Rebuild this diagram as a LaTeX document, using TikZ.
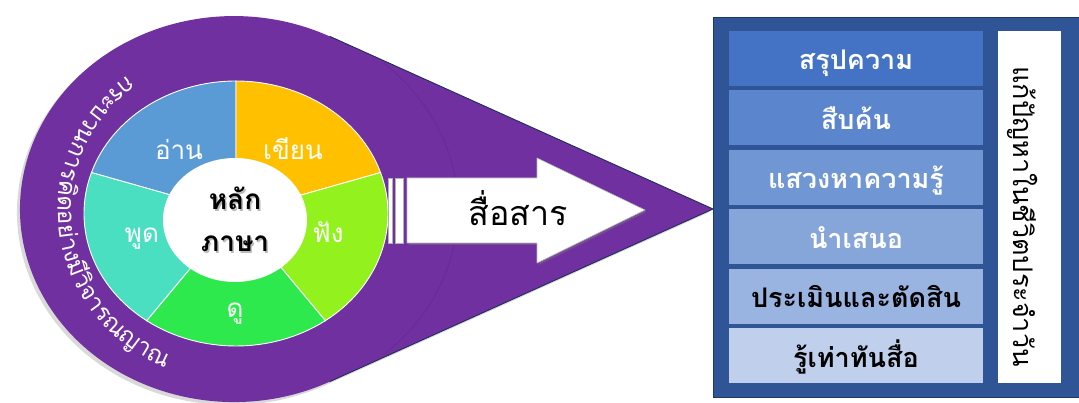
\documentclass[tikz,border=0pt]{standalone}
\usepackage{fontspec}
\newfontfamily\thai[Script=Thai]{Loma}
\usetikzlibrary{decorations.text,shadows}
\definecolor{purp}{HTML}{7030A0}
\definecolor{edgenavy}{HTML}{1F2D5A}
\definecolor{cblue}{HTML}{5B9BD5}
\definecolor{corange}{HTML}{FFC000}
\definecolor{clime}{HTML}{93F21E}
\definecolor{cgreen}{HTML}{2EE94D}
\definecolor{cturq}{HTML}{4ADFC1}
\definecolor{boxblue}{HTML}{2F5597}
\definecolor{boxedge}{HTML}{1F3864}
\definecolor{rowa}{HTML}{4472C4}
\definecolor{rowb}{HTML}{5B86CD}
\definecolor{rowc}{HTML}{7096D3}
\definecolor{rowd}{HTML}{86A6D9}
\definecolor{rowe}{HTML}{99B4E0}
\definecolor{rowf}{HTML}{C0CFEB}
\tikzset{
  slicelbl/.style={text=white, font=\thai\fontsize{26}{30}\selectfont, anchor=base, inner sep=0pt},
  centerlbl/.style={text=black, font=\thai\bfseries\fontsize{28}{32}\selectfont, anchor=base, inner sep=0pt},
  rowbox/.style={minimum width=254pt, minimum height=55pt, inner sep=0pt, draw=none},
  rowtxt/.style={font=\thai\bfseries\fontsize{27}{31}\selectfont, anchor=base, inner sep=0pt},
  arrowtxt/.style={font=\thai\fontsize{34}{38}\selectfont, anchor=base, inner sep=0pt},
}
\begin{document}
\begin{tikzpicture}[x=1pt,y=1pt]
\useasboundingbox (0,0) rectangle (1079,403);

% ---------- purple teardrop ----------
\coordinate (pc) at (234,194);
\coordinate (tip) at (713,194);
\coordinate (tt) at (329.6,366.7);
\coordinate (tb) at (329.6,21.3);
\path[fill=purp, drop shadow={shadow xshift=-3pt, shadow yshift=-3pt, opacity=0.3}]
  (tt) -- (tip) -- (tb) arc[start angle=-63.46, end angle=-296.54, x radius=214pt, y radius=193pt] -- cycle;
\draw[edgenavy, line width=0.9pt] (tt) -- (tip) -- (tb);
\draw[black, opacity=0.07, line width=1pt] (pc) ++(-48:224pt and 196pt)
  arc[start angle=-48, end angle=48, x radius=224pt, y radius=196pt];

% ---------- ring text ----------
\path[decorate, decoration={text along path, text align=center, text color=white,
   text={|\thai\fontsize{24}{28}\selectfont|กระบวนการ{คิ}ดอ{ย่}าง{มี}{วิ}จารณญาณ}}]
  (235,192) ++(115:177pt and 170pt) arc[start angle=115, end angle=259, x radius=177pt, y radius=170pt];

% ---------- pie ----------
\coordinate (c) at (236,189.5);
\foreach \a/\b/\col in {90/162/cblue, 18/90/corange, -54/18/clime, -126/-54/cgreen, 162/234/cturq}
  \filldraw[fill=\col, draw=white, line width=0.9pt] (c) -- ++(\a:152pt and 132.5pt)
     arc[start angle=\a, end angle=\b, x radius=152pt, y radius=132.5pt] -- cycle;
\fill[white] (235,183) ellipse[x radius=72pt, y radius=62pt];

\node[slicelbl] (anan) at (179,243) {อ่าน};
\node[slicelbl] (khian) at (293,243) {เขียน};
\node[slicelbl] (phut) at (142,160) {พูด};
\node[slicelbl] (fang) at (328,160) {ฟัง};
\node[slicelbl] (du) at (235,85) {ดู};

\node[centerlbl, text=black!45, opacity=0.6] (laks) at (236.5,191.5) {หลัก};
\node[centerlbl, text=black!45, opacity=0.6] (phasas) at (236.5,149.5) {ภาษา};
\node[centerlbl] (lak) at (235,193) {หลัก};
\node[centerlbl] (phasa) at (235,151) {ภาษา};

% ---------- block arrow ----------
\path[fill=white, draw=gray!55, line width=0.6pt, drop shadow={shadow xshift=1.5pt, shadow yshift=-2pt, opacity=0.4}]
  (407,225) -- (537,225) -- (537,245) -- (645,193) -- (537,140) -- (537,160) -- (407,160) -- cycle;
\path[fill=white, draw=gray!60, line width=0.6pt] (388,225) rectangle (392,160);
\path[fill=white, draw=gray!60, line width=0.6pt] (395,225) rectangle (403,160);
\node[arrowtxt] (sue) at (518,177) {สื่อสาร};

% ---------- right box ----------
\fill[boxblue] (713,6) rectangle (1079,386);
\draw[boxedge, line width=0.8pt] (713,6) -- (713,386) -- (1079,386);
\draw[boxedge, line width=0.8pt] (713,6) -- (1079,6);

\foreach \i/\col/\tc/\txt in {0/rowa/white/สรุปความ, 1/rowb/white/สืบค้น, 2/rowc/white/แสวงหาความรู้,
   3/rowd/white/นำเสนอ, 4/rowe/black/ประเมินและตัดสิน, 5/rowf/black/รู้เท่าทันสื่อ}{
  \node[rowbox, fill=\col] (row\i) at (856,{344.5-59.5*\i}) {};
  \node[rowtxt, text=\tc] (rowtext\i) at ([yshift=-11.5pt]row\i.center) {\txt};
}

\node[fill=white, minimum width=63pt, minimum height=352pt, inner sep=0pt] (vbox) at (1029.5,196) {};
\node[font=\thai\fontsize{27}{31}\selectfont, rotate=-90, anchor=base, inner sep=0pt] (vtext) at (1013,186.5) {แก้ปัญหาในชีวิตประจำวัน};
\end{tikzpicture}
\end{document}
